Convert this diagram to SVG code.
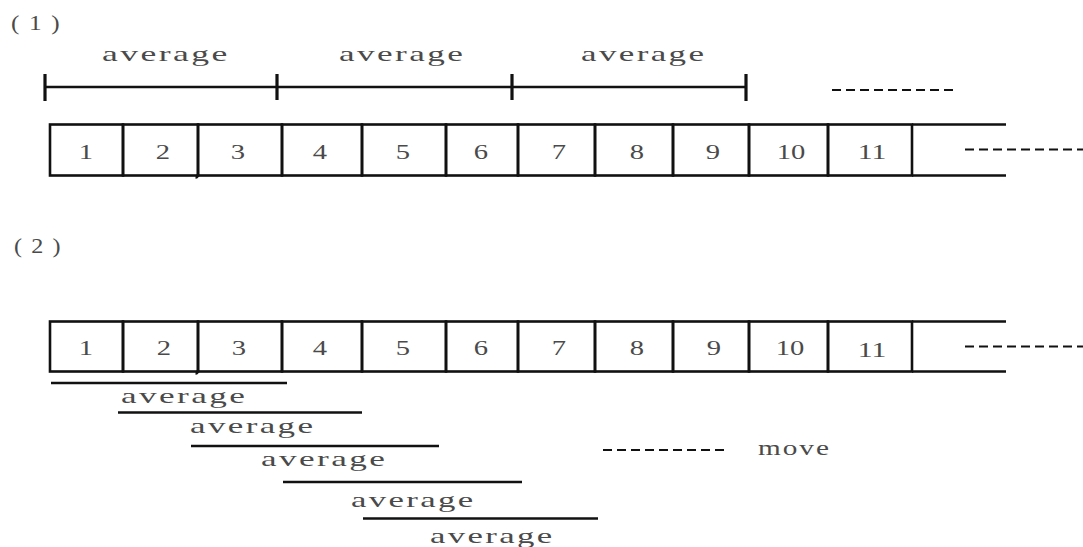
<svg xmlns="http://www.w3.org/2000/svg" width="1083" height="547" viewBox="0 0 1083 547">
  <style>
    .bg { fill: #ffffff; }
    .cell { fill: none; stroke: #111; stroke-width: 2.6; }
    .edge { stroke: #111; stroke-width: 2.4; fill: none; }
    .span { stroke: #111; stroke-width: 2.4; }
    .tick { stroke: #111; stroke-width: 3.2; }
    .dash { stroke: #111; stroke-width: 2.2; stroke-dasharray: 9 5; }
    .num { font-family: "Liberation Serif", serif; font-size: 22px; fill: #4a4a4a; text-anchor: middle; }
    .lbl { font-family: "Liberation Serif", serif; font-size: 22px; fill: #4a4a4a; letter-spacing: 1.5px; }
    .tag { font-family: "Liberation Serif", serif; font-size: 21px; fill: #4a4a4a; letter-spacing: 8px; }
  </style>

  <rect class="bg" x="0" y="0" width="1083" height="547"/>

  <!-- section labels -->
  <text id="label-1" class="tag" transform="translate(11,30) scale(1.2,1)">(1)</text>
  <text id="label-2" class="tag" transform="translate(14,253) scale(1.15,1)">(2)</text>

  <!-- (1) block averages -->
  <g id="avg-blocks">
    <text class="lbl" transform="translate(102,61) scale(1.62,1)">average</text>
    <text class="lbl" transform="translate(339,61) scale(1.6,1)">average</text>
    <text class="lbl" transform="translate(581,61) scale(1.59,1)">average</text>
  </g>

  <!-- row 1 cells -->
  <g id="row1">
    <g id="r1-c1"><rect class="cell" x="50" y="124.5" width="73" height="51"/><text class="num" transform="translate(86,158.5) scale(1.3,1)">1</text></g>
    <g id="r1-c2"><rect class="cell" x="123" y="124.5" width="75" height="51"/><text class="num" transform="translate(163,158.5) scale(1.3,1)">2</text></g>
    <g id="r1-c3"><rect class="cell" x="198" y="124.5" width="84" height="51"/><path class="edge" d="M198,174 Q198,177.5 195.5,177.5"/><text class="num" transform="translate(238,158.5) scale(1.3,1)">3</text></g>
    <g id="r1-c4"><rect class="cell" x="282" y="124.5" width="80" height="51"/><text class="num" transform="translate(320,158.5) scale(1.3,1)">4</text></g>
    <g id="r1-c5"><rect class="cell" x="362" y="124.5" width="84" height="51"/><text class="num" transform="translate(403,158.5) scale(1.3,1)">5</text></g>
    <g id="r1-c6"><rect class="cell" x="446" y="124.5" width="72" height="51"/><text class="num" transform="translate(481,158.5) scale(1.3,1)">6</text></g>
    <g id="r1-c7"><rect class="cell" x="518" y="124.5" width="77" height="51"/><text class="num" transform="translate(559,158.5) scale(1.3,1)">7</text></g>
    <g id="r1-c8"><rect class="cell" x="595" y="124.5" width="78" height="51"/><text class="num" transform="translate(637,158.5) scale(1.3,1)">8</text></g>
    <g id="r1-c9"><rect class="cell" x="673" y="124.5" width="76" height="51"/><text class="num" transform="translate(713,158.5) scale(1.3,1)">9</text></g>
    <g id="r1-c10"><rect class="cell" x="749" y="124.5" width="79" height="51"/><text class="num" transform="translate(791,158.5) scale(1.3,1)">10</text></g>
    <g id="r1-c11"><rect class="cell" x="828" y="124.5" width="84" height="51"/><text class="num" transform="translate(872,159) scale(1.35,1)">11</text></g>
    <g id="r1-open"><path class="edge" d="M912,124.5 H1006 M912,175.5 H1006"/></g>
  </g>

  <!-- (2) moving averages -->
  <g id="avg-moving">
    <text class="lbl" transform="translate(121,403) scale(1.6,1)">average</text>
    <text class="lbl" transform="translate(190,433) scale(1.59,1)">average</text>
    <text class="lbl" transform="translate(261,466) scale(1.6,1)">average</text>
    <text class="lbl" transform="translate(351,506.5) scale(1.58,1)">average</text>
    <text class="lbl" transform="translate(430,543) scale(1.58,1)">average</text>
  </g>

  <!-- row 2 cells -->
  <g id="row2">
    <g id="r2-c1"><rect class="cell" x="50" y="321.5" width="73" height="50"/><text class="num" transform="translate(86,355) scale(1.3,1)">1</text></g>
    <g id="r2-c2"><rect class="cell" x="123" y="321.5" width="75" height="50"/><text class="num" transform="translate(164,355) scale(1.3,1)">2</text></g>
    <g id="r2-c3"><rect class="cell" x="198" y="321.5" width="84" height="50"/><path class="edge" d="M198,370 Q198,373.5 195.5,373.5"/><text class="num" transform="translate(239,355) scale(1.3,1)">3</text></g>
    <g id="r2-c4"><rect class="cell" x="282" y="321.5" width="80" height="50"/><text class="num" transform="translate(320,355) scale(1.3,1)">4</text></g>
    <g id="r2-c5"><rect class="cell" x="362" y="321.5" width="84" height="50"/><text class="num" transform="translate(403,355) scale(1.3,1)">5</text></g>
    <g id="r2-c6"><rect class="cell" x="446" y="321.5" width="72" height="50"/><text class="num" transform="translate(481,355) scale(1.3,1)">6</text></g>
    <g id="r2-c7"><rect class="cell" x="518" y="321.5" width="77" height="50"/><text class="num" transform="translate(559,355) scale(1.3,1)">7</text></g>
    <g id="r2-c8"><rect class="cell" x="595" y="321.5" width="78" height="50"/><text class="num" transform="translate(637,355) scale(1.3,1)">8</text></g>
    <g id="r2-c9"><rect class="cell" x="673" y="321.5" width="76" height="50"/><text class="num" transform="translate(714,355) scale(1.3,1)">9</text></g>
    <g id="r2-c10"><rect class="cell" x="749" y="321.5" width="79" height="50"/><text class="num" transform="translate(790,355) scale(1.3,1)">10</text></g>
    <g id="r2-c11"><rect class="cell" x="828" y="321.5" width="84" height="50"/><text class="num" transform="translate(872,356.5) scale(1.35,1)">11</text></g>
    <g id="r2-open"><path class="edge" d="M912,321.5 H1006 M912,371.5 H1006"/></g>
  </g>

  <!-- spans, continuation dashes and the "move" legend -->
  <g id="connectors">
    <line class="span" x1="45" y1="87" x2="746" y2="87"/>
    <line class="tick" x1="45" y1="74" x2="45" y2="101"/>
    <line class="tick" x1="277" y1="74" x2="277" y2="100"/>
    <line class="tick" x1="512" y1="74" x2="512" y2="100"/>
    <line class="tick" x1="746" y1="74" x2="746" y2="101"/>

    <line class="dash" x1="832" y1="90" x2="954" y2="90"/>
    <line class="dash" x1="965" y1="149.5" x2="1083" y2="149.5"/>
    <line class="dash" x1="965" y1="346.5" x2="1083" y2="346.5"/>

    <line class="span" x1="51" y1="383" x2="287" y2="383"/>
    <line class="span" x1="118" y1="412.5" x2="362" y2="412.5"/>
    <line class="span" x1="191" y1="446" x2="439" y2="446"/>
    <line class="span" x1="283" y1="482" x2="522" y2="482"/>
    <line class="span" x1="363" y1="518.5" x2="598" y2="518.5"/>

    <line class="dash" x1="603" y1="450" x2="725" y2="450"/>
  </g>
  <text id="move-label" class="lbl" transform="translate(758,455) scale(1.33,1)">move</text>
</svg>
